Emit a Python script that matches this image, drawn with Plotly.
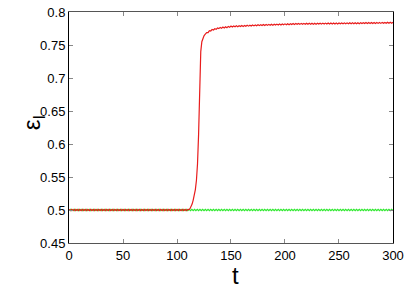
import plotly.graph_objects as go

# ---- data ----
STEP = 1.25  # sampling step of the time grid

# red curve, before the jump (t = 0 .. 110)
red_early_t = [i * STEP for i in range(89)]
red_early = [0.5010, 0.4990] * 44 + [0.5010]

# red curve, the jump
red_rise_t = [111, 112, 113, 114, 115, 116, 117, 118, 119, 120, 121, 122, 123, 124, 125, 126]
red_rise = [0.5005, 0.502, 0.505, 0.509, 0.515, 0.522, 0.531, 0.545, 0.570, 0.615, 0.680,
            0.740, 0.755, 0.761, 0.764, 0.766]

# red curve, after the jump (t = 127.5 .. 300)
red_late_t = [127.5 + i * STEP for i in range(139)]
red_late = [
    0.7687, 0.7688, 0.7717, 0.7713, 0.7737, 0.7728, 0.7747, 0.7738, 0.7757, 0.7748,
    0.7767, 0.7753, 0.7772, 0.7758, 0.7777, 0.7763, 0.7782, 0.7768, 0.7787,
    0.7774, 0.7789, 0.7776, 0.7791, 0.7778, 0.7793, 0.7780, 0.7795, 0.7782, 0.7797,
    0.7784, 0.7799, 0.7786, 0.7801, 0.7788, 0.7803, 0.7790, 0.7805, 0.7792, 0.7807,
    0.7794, 0.7808, 0.7795, 0.7810, 0.7797, 0.7811, 0.7798, 0.7813, 0.7799, 0.7814,
    0.7801, 0.7816, 0.7802, 0.7817, 0.7804, 0.7818, 0.7805, 0.7820, 0.7807, 0.7821,
    0.7808, 0.7823, 0.7809, 0.7824, 0.7811, 0.7826, 0.7812, 0.7827,
    0.7813, 0.7827, 0.7813,
    0.7828, 0.7814, 0.7828, 0.7814,
    0.7829, 0.7815, 0.7829, 0.7815,
    0.7830, 0.7816, 0.7830, 0.7816,
    0.7831, 0.7817, 0.7831, 0.7817,
    0.7832, 0.7818, 0.7832, 0.7818,
    0.7833, 0.7819, 0.7833, 0.7819,
    0.7834, 0.7820, 0.7834, 0.7820,
    0.7835, 0.7821, 0.7835, 0.7821,
    0.7836, 0.7822, 0.7836, 0.7822,
    0.7837, 0.7823, 0.7837, 0.7823,
    0.7838, 0.7824, 0.7838, 0.7824,
    0.7839, 0.7825, 0.7839, 0.7825,
    0.7840, 0.7826, 0.7840, 0.7826,
    0.7841, 0.7827, 0.7841, 0.7827,
    0.7842, 0.7828, 0.7842, 0.7828,
    0.7843, 0.7829, 0.7843, 0.7829,
    0.7844, 0.7830, 0.7844, 0.7830,
    0.7845,
]

# green curve (t = 0 .. 300)
green_t = [i * STEP for i in range(241)]
green = [0.4990, 0.5010] * 120 + [0.4990]

x_ticks = [0, 50, 100, 150, 200, 250, 300]
y_ticks = [0.45, 0.5, 0.55, 0.6, 0.65, 0.7, 0.75, 0.8]
y_tick_text = ["0.45", "0.5", "0.55", "0.6", "0.65", "0.7", "0.75", "0.8"]

red_t = red_early_t + red_rise_t + red_late_t
red = red_early + red_rise + red_late

fig = go.Figure()
fig.add_trace(go.Scatter(x=green_t, y=green, mode="lines",
                         line=dict(color="#2ee82e", width=1.2), hoverinfo="skip"))
fig.add_trace(go.Scatter(x=red_t, y=red, mode="lines",
                         line=dict(color="#e81c1c", width=1.2), hoverinfo="skip"))

axis_font = dict(family="Liberation Sans, Arial, sans-serif", size=13, color="black")
fig.update_xaxes(range=[0, 300.01], tickvals=x_ticks, ticks="inside", ticklen=4,
                 tickcolor="#888", showline=True, linecolor="#555", linewidth=1,
                 mirror="allticks", showgrid=False, zeroline=False, tickfont=axis_font,
                 ticklabeloverflow="allow")
fig.update_yaxes(range=[0.45, 0.80005], tickvals=y_ticks, ticktext=y_tick_text,
                 ticks="inside", ticklen=4, tickcolor="#888", showline=True,
                 linecolor="black", linewidth=1, mirror="allticks", showgrid=False,
                 zeroline=False, tickfont=axis_font, ticklabeloverflow="allow")

fig.add_annotation(text="ε<sub>I</sub>", xref="paper", yref="paper", x=-0.107, y=0.52,
                   xanchor="center", yanchor="middle",
                   showarrow=False, textangle=-90,
                   font=dict(family="Liberation Sans, Arial, sans-serif", size=24, color="black"))
fig.add_annotation(text="t", xref="paper", yref="paper", x=0.514, y=-0.139,
                   xanchor="center", yanchor="middle",
                   showarrow=False,
                   font=dict(family="Liberation Sans, Arial, sans-serif", size=24, color="black"))

fig.update_layout(width=409, height=293, margin=dict(l=69, r=13, t=5, b=50),
                  paper_bgcolor="white", plot_bgcolor="white", showlegend=False)

fig.write_html("out.html", config={"displayModeBar": False},
               post_script="document.body.style.margin='0';")
